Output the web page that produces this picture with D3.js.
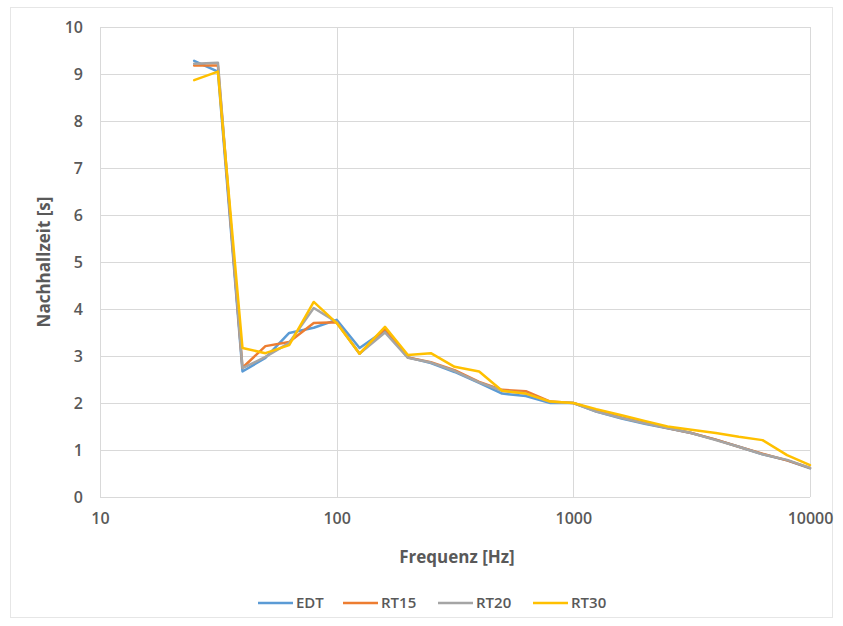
<!DOCTYPE html>
<html><head><meta charset="utf-8">
<script src="https://cdn.jsdelivr.net/npm/d3@7"></script>
<style>body{margin:0;background:#fff;} text{font-family:"Open Sans","Noto Sans",sans-serif;}</style>
</head><body><svg id="c" width="843" height="626"></svg>
<script>
const freqs = [25,31.5,40,50,63,80,100,125,160,200,250,315,400,500,630,800,1000,1250,1600,2000,2500,3150,4000,5000,6300,8000,10000];
const edt  = [9.28,9.05,2.67,2.96,3.49,3.60,3.77,3.17,3.55,2.97,2.85,2.66,2.43,2.20,2.15,2.00,2.00,1.82,1.67,1.56,1.46,1.36,1.22,1.07,0.91,0.78,0.61];
const rt15 = [9.18,9.18,2.75,3.21,3.30,3.70,3.72,3.05,3.58,2.97,2.87,2.70,2.45,2.28,2.25,2.03,2.00,1.84,1.69,1.58,1.47,1.36,1.22,1.07,0.92,0.78,0.62];
const rt20 = [9.22,9.24,2.74,2.98,3.28,4.02,3.72,3.05,3.50,2.96,2.86,2.68,2.44,2.26,2.20,2.02,2.00,1.82,1.68,1.57,1.47,1.36,1.21,1.07,0.91,0.79,0.62];
const rt30 = [8.87,9.05,3.17,3.06,3.23,4.15,3.70,3.05,3.62,3.02,3.06,2.77,2.67,2.26,2.20,2.03,2.00,1.87,1.74,1.62,1.50,1.43,1.36,1.28,1.21,0.89,0.68];
const seriesNames = ["EDT","RT15","RT20","RT30"];
const seriesColors = ["#5B9BD5","#ED7D31","#A5A5A5","#FFC000"];
const xTicks = [10,100,1000,10000];
const yTicks = [0,1,2,3,4,5,6,7,8,9,10];
const xTitle = "Frequenz [Hz]";
const yTitle = "Nachhallzeit [s]";

const svg = d3.select("#c");
const L=100, R=810, T=27, B=497;
const x = d3.scaleLog().domain([10,10000]).range([L,R]);
const y = d3.scaleLinear().domain([0,10]).range([B,T]);

svg.append("rect").attr("x",10.5).attr("y",7.5).attr("width",822).attr("height",610)
  .attr("fill","none").attr("stroke","#e6e6e6");

// gridlines
svg.append("g").selectAll("line").data(yTicks).join("line")
  .attr("x1",L).attr("x2",R).attr("y1",d=>Math.round(y(d))+0.5).attr("y2",d=>Math.round(y(d))+0.5)
  .attr("stroke","#d9d9d9").attr("stroke-width",1);
svg.append("g").selectAll("line").data(xTicks).join("line")
  .attr("y1",T).attr("y2",B).attr("x1",d=>Math.round(x(d))+0.5).attr("x2",d=>Math.round(x(d))+0.5)
  .attr("stroke","#d9d9d9").attr("stroke-width",1);

// axes
const yAxis = svg.append("g").attr("transform",`translate(${L-13},0)`)
  .call(d3.axisLeft(y).tickValues(yTicks).tickSize(0).tickPadding(4));
yAxis.select(".domain").remove();
yAxis.selectAll("text").attr("fill","#595959").attr("font-size",16).attr("font-weight",600)
  .style("font-family",'"Open Sans",sans-serif');
const xAxis = svg.append("g").attr("transform",`translate(0,${B+10})`)
  .call(d3.axisBottom(x).tickValues(xTicks).tickFormat(d3.format("d")).tickSize(0).tickPadding(6));
xAxis.select(".domain").remove();
xAxis.selectAll("text").attr("fill","#595959").attr("font-size",16).attr("font-weight",600)
  .style("font-family",'"Open Sans",sans-serif');

// titles
svg.append("text").attr("x",(L+R)/2+2).attr("y",563).attr("text-anchor","middle")
  .attr("fill","#595959").attr("font-size",17).attr("font-weight",700).text(xTitle);
svg.append("text").attr("transform",`translate(50,${(T+B)/2}) rotate(-90)`).attr("text-anchor","middle")
  .attr("fill","#595959").attr("font-size",17).attr("font-weight",700).text(yTitle);

// lines
const all = [edt,rt15,rt20,rt30];
const line = d3.line().x(d=>x(d[0])).y(d=>y(d[1]));
all.forEach((vals,i)=>{
  svg.append("path").datum(freqs.map((f,j)=>[f,vals[j]]))
    .attr("d",line).attr("fill","none").attr("stroke",seriesColors[i])
    .attr("stroke-width",2.5).attr("stroke-linejoin","round").attr("stroke-linecap","round");
});

// legend
const legX = [258,343,438,533];
const lg = svg.append("g");
seriesNames.forEach((n,i)=>{
  lg.append("line").attr("x1",legX[i]).attr("x2",legX[i]+35).attr("y1",603).attr("y2",603)
    .attr("stroke",seriesColors[i]).attr("stroke-width",2.5);
  lg.append("text").attr("x",legX[i]+38).attr("y",608).attr("fill","#595959")
    .attr("font-size",15).attr("font-weight",600).text(n);
});
</script></body></html>
